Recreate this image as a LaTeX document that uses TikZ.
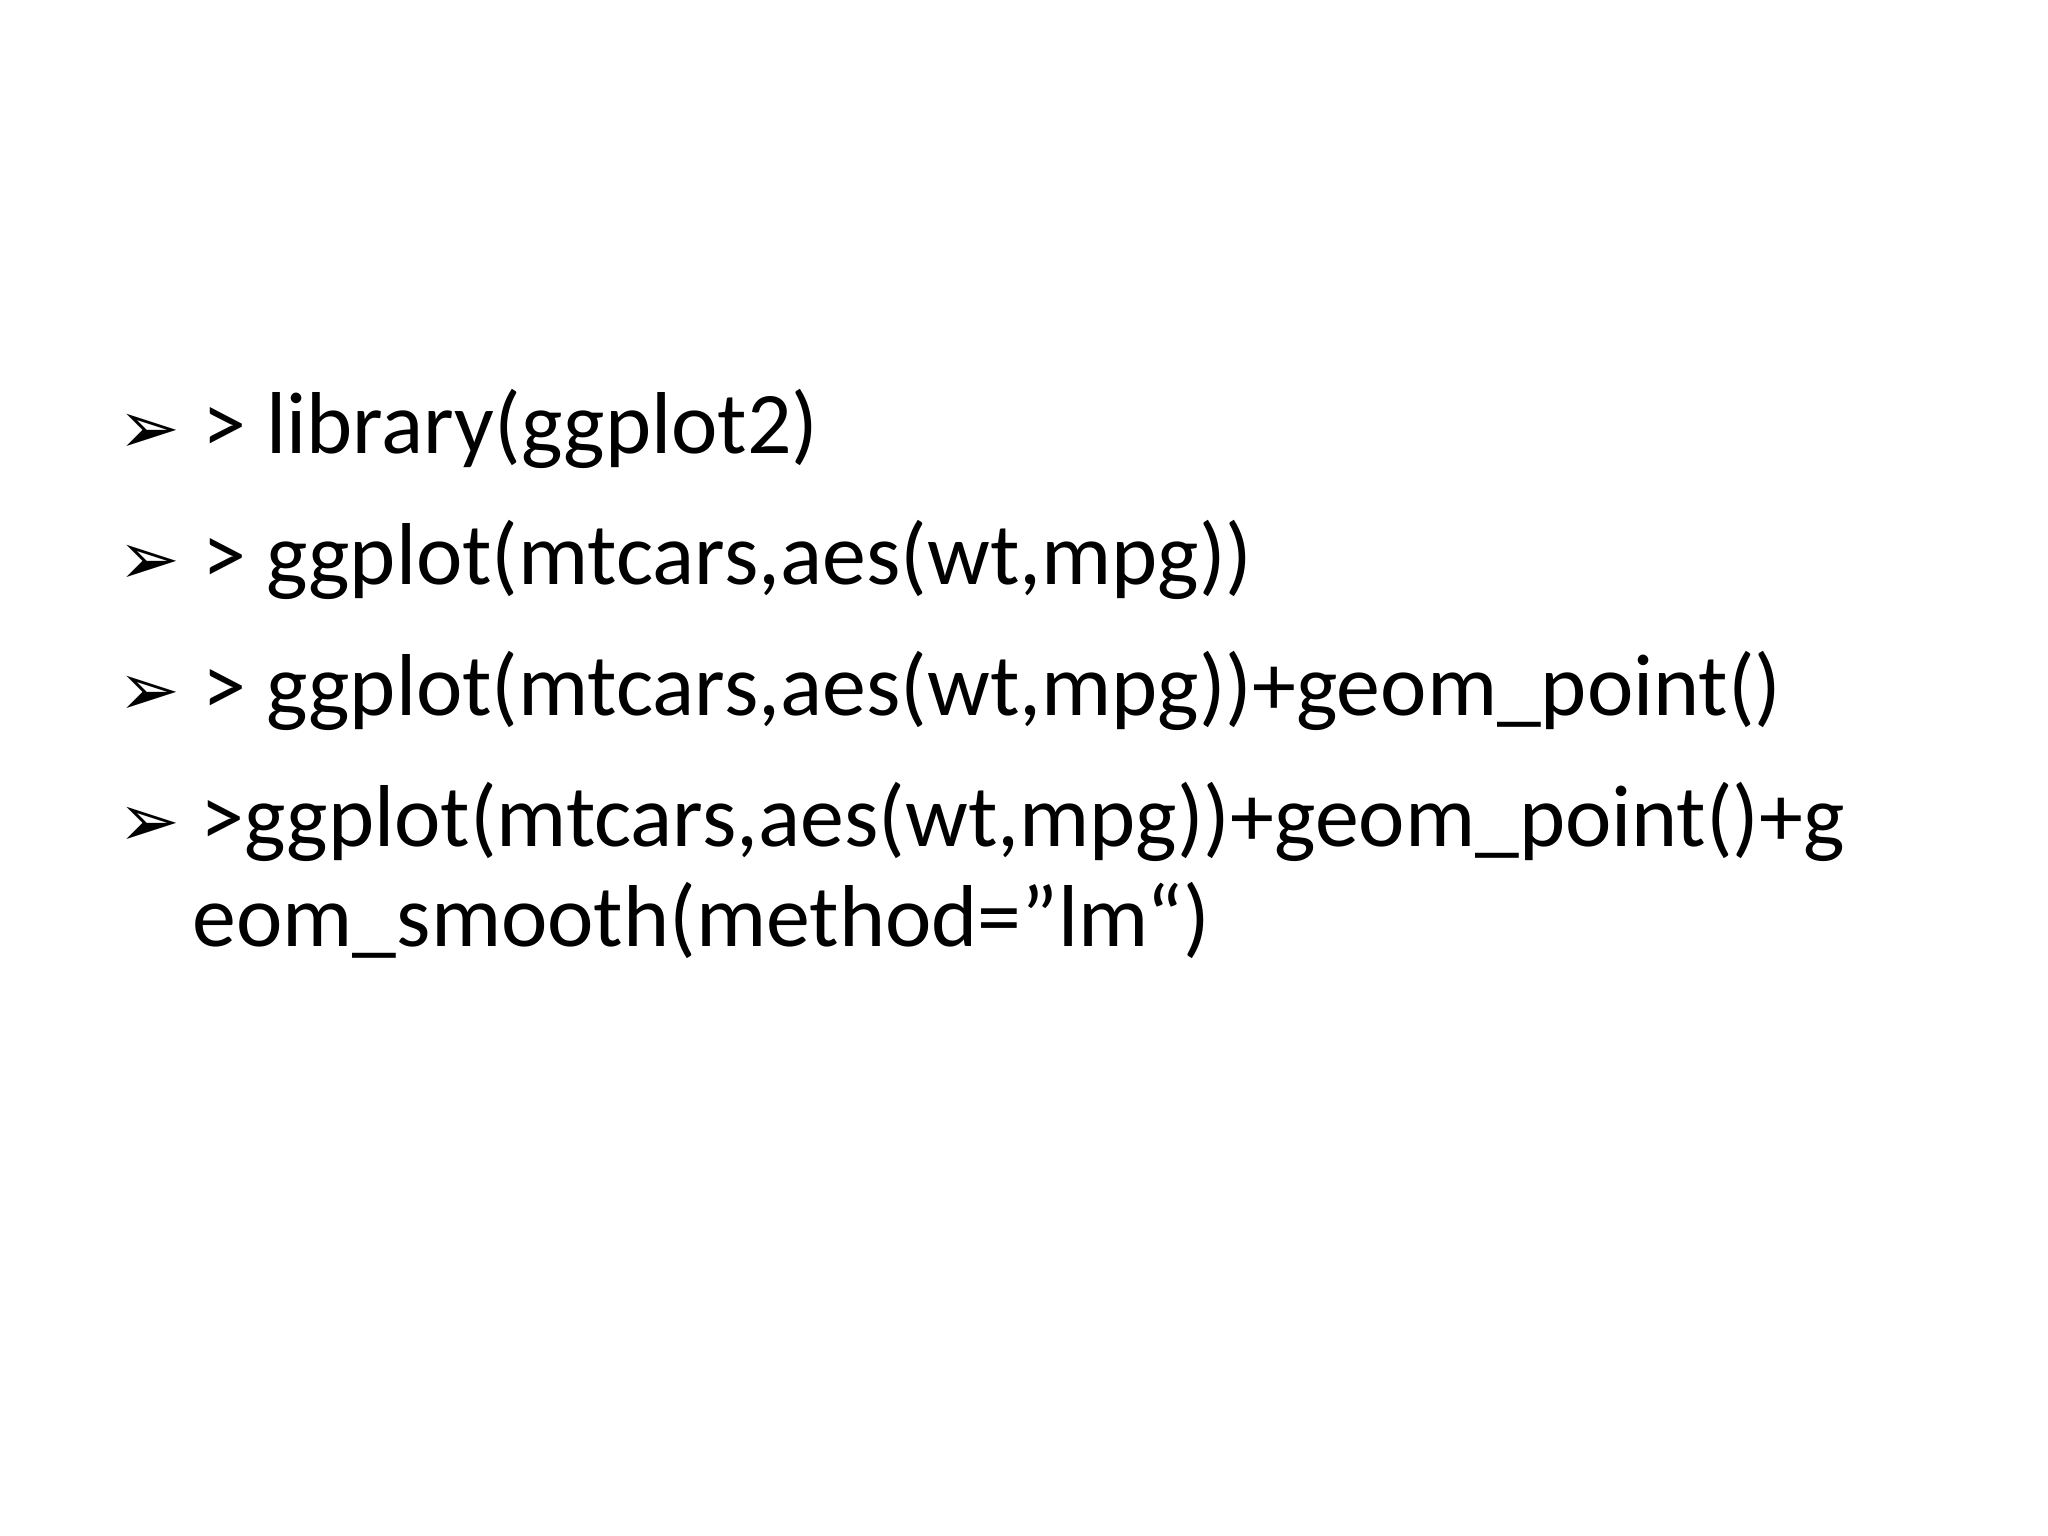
\documentclass[tikz,border=0pt]{standalone}
\usepackage{fontspec}
\setmainfont{Carlito}
\newfontfamily\symfont{DejaVu Sans}
\usetikzlibrary{positioning}
\tikzset{
  line/.style={anchor=base west,inner sep=0pt,font=\fontsize{25}{30}\selectfont},
  bullet/.style={anchor=base west,inner sep=0pt,font=\symfont\fontsize{21}{30}\selectfont}
}
\begin{document}
\begin{tikzpicture}
  \useasboundingbox (0,0) rectangle (20.48,-15.36);
  \node[bullet] (b_1) at (1.18,-4.54) {➢};
  \node[line] (l_1) at (2.02,-4.54) {> library(ggplot2)};
  \node[bullet] (b_2) at (1.18,-5.85) {➢};
  \node[line] (l_2) at (2.02,-5.85) {> ggplot(mtcars,aes(wt,mpg))};
  \node[bullet] (b_3) at (1.18,-7.16) {➢};
  \node[line] (l_3) at (2.02,-7.16) {> ggplot(mtcars,aes(wt,mpg))+geom\_point()};
  \node[bullet] (b_4) at (1.18,-8.46) {➢};
  \node[line] (l_4) at (2.0,-8.46) {>ggplot(mtcars,aes(wt,mpg))+geom\_point()+g};
  \node[line] (l_5) at (1.92,-9.47) {eom\_smooth(method="lm“)};
\end{tikzpicture}
\end{document}
